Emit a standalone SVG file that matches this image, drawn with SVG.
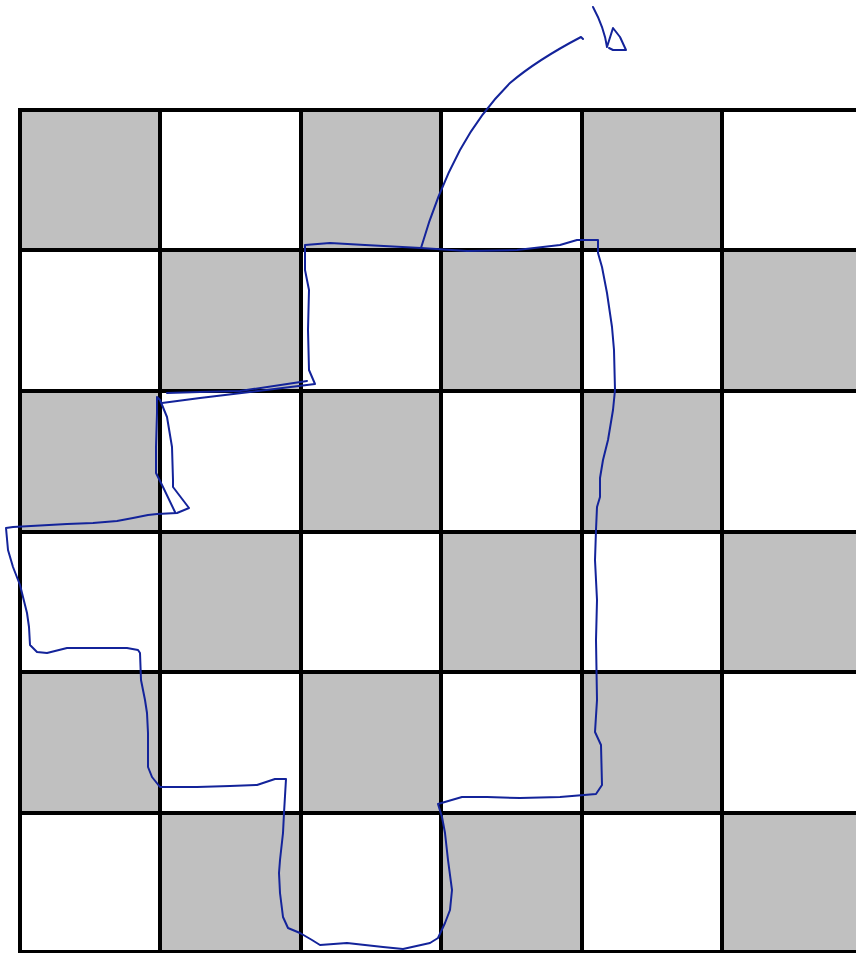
<svg xmlns="http://www.w3.org/2000/svg" width="856" height="953" viewBox="0 0 856 953">
<style>
.sq{fill:#c0c0c0}
.gl{stroke:#000;stroke-width:4;fill:none}
.ink{stroke:#13239a;stroke-width:2;fill:none;stroke-linejoin:round;stroke-linecap:round}
</style>
<rect width="856" height="953" fill="#fff"/>
<g id="board">
<rect class="sq" x="20" y="110" width="140" height="140"/>
<rect class="sq" x="301" y="110" width="140" height="140"/>
<rect class="sq" x="582" y="110" width="140" height="140"/>
<rect class="sq" x="160" y="250" width="141" height="141"/>
<rect class="sq" x="441" y="250" width="141" height="141"/>
<rect class="sq" x="722" y="250" width="134" height="141"/>
<rect class="sq" x="20" y="391" width="140" height="141"/>
<rect class="sq" x="301" y="391" width="140" height="141"/>
<rect class="sq" x="582" y="391" width="140" height="141"/>
<rect class="sq" x="160" y="532" width="141" height="140"/>
<rect class="sq" x="441" y="532" width="141" height="140"/>
<rect class="sq" x="722" y="532" width="134" height="140"/>
<rect class="sq" x="20" y="672" width="140" height="141"/>
<rect class="sq" x="301" y="672" width="140" height="141"/>
<rect class="sq" x="582" y="672" width="140" height="141"/>
<rect class="sq" x="160" y="813" width="141" height="140"/>
<rect class="sq" x="441" y="813" width="141" height="140"/>
<rect class="sq" x="722" y="813" width="134" height="140"/>
<path class="gl" d="M20,108V953M160,108V953M301,108V953M441,108V953M582,108V953M722,108V953M18,110H856M18,250H856M18,391H856M18,532H856M18,672H856M18,813H856M18,952H856"/>
</g>
<g id="connectors">
<path class="ink" d="M583,39 L581,37 C560,48 530,66 510,83 C490,103 472,128 460,150 C445,178 432,210 421,248"/>
<path class="ink" d="M593,7 C600,20 605,33 607,47 L613,28 L620,37 L626,50 L613,50 L609,48"/>
<path class="ink" d="M162,403 L200,398 L250,392 L315,384 L309,370 L308,330 L309,290 L305,270 L305,245 L330,243 L365,245 L421,248 L467,251 L517,250 L560,245 L577,240 L598,240 L598,253 L602,267 L607,293 L612,327 L614,350 L615,390 L613,410 L608,440 L603,460 L600,478 L600,497 L597,507 L596,530 L595,560 L597,600 L596,640 L597,700 L595,732 L601,745 L602,785 L596,794 L560,797 L520,798 L487,797 L462,797 L438,804 L442,817 L445,833 L448,860 L452,890 L450,910 L445,923 L438,938 L430,943 L403,949 L383,947 L347,943 L320,945 L312,940 L300,933 L288,928 L283,917 L280,893 L279,873 L280,860 L283,833 L284,813 L286,779 L275,779 L257,785 L230,786 L197,787 L160,787 L152,777 L148,767 L148,733 L147,713 L145,700 L141,680 L140,653 L138,650 L127,648 L83,648 L67,648 L47,653 L37,652 L30,645 L29,627 L27,613 L23,597 L20,585 L13,567 L8,550 L6,528 L13,527 L67,524 L93,523 L117,521 L133,518 L148,515 L157,514 L177,513 L189,508 L173,487 L173,480 L172,447 L167,417 L160,400 L157,397 L157,413 L156,447 L156,473 L163,487 L175,512"/>
<path class="ink" d="M167,393 L200,392 L240,391 L307,381"/>
</g>
</svg>
